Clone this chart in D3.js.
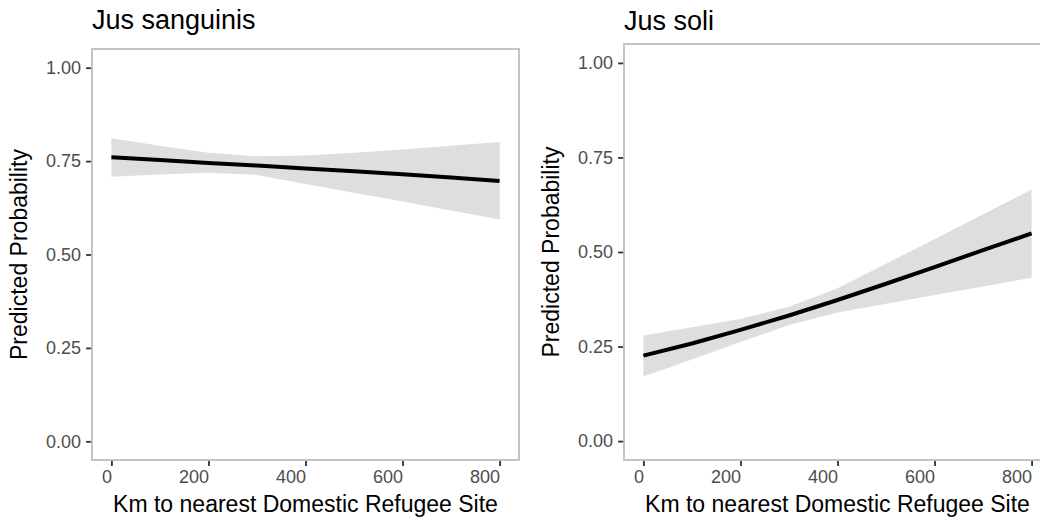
<!DOCTYPE html>
<html>
<head>
<meta charset="utf-8">
<script src="https://cdn.jsdelivr.net/npm/d3@7"></script>
<style>
  html, body { margin: 0; padding: 0; background: #fff; }
  svg { display: block; font-family: "Liberation Sans", Arial, Helvetica, sans-serif; }
</style>
</head>
<body>
<svg id="chart" width="1040" height="520"></svg>
<script>
// Distance grid (km) at which predictions were evaluated
const distanceKm = [0, 100, 200, 300, 400, 500, 600, 700, 800];

// Jus sanguinis: predicted probability and 95% interval
const sanguinisFit   = [0.760, 0.753, 0.745, 0.738, 0.730, 0.723, 0.715, 0.706, 0.697];
const sanguinisLower = [0.708, 0.714, 0.719, 0.713, 0.689, 0.665, 0.642, 0.618, 0.594];
const sanguinisUpper = [0.811, 0.791, 0.772, 0.763, 0.765, 0.772, 0.781, 0.791, 0.801];

// Jus soli: predicted probability and 95% interval
const soliFit   = [0.226, 0.258, 0.294, 0.332, 0.373, 0.416, 0.460, 0.505, 0.549];
const soliLower = [0.171, 0.216, 0.262, 0.307, 0.340, 0.363, 0.386, 0.409, 0.432];
const soliUpper = [0.279, 0.301, 0.323, 0.355, 0.404, 0.469, 0.534, 0.600, 0.665];

// Axis ticks
const xTicks = [0, 200, 400, 600, 800];
const yTicks = [0, 0.25, 0.5, 0.75, 1];

const panelTitles = ["Jus sanguinis", "Jus soli"];
const xAxisTitle = "Km to nearest Domestic Refugee Site";
const yAxisTitle = "Predicted Probability";

const svg = d3.select("#chart");

const panels = [
  { title: panelTitles[0], fit: sanguinisFit, lo: sanguinisLower, hi: sanguinisUpper,
    left: 92, right: 519, top: 49, bottom: 460, titleY: 29, yTitleX: 27 },
  { title: panelTitles[1], fit: soliFit, lo: soliLower, hi: soliUpper,
    left: 624, right: 1051, top: 44, bottom: 460, titleY: 29.5, yTitleX: 559 }
];

panels.forEach(p => {
  const x = d3.scaleLinear().domain([-40, 840]).range([p.left, p.right]);
  const y = d3.scaleLinear().domain([-0.05, 1.05]).range([p.bottom, p.top]);

  const rows = distanceKm.map((d, i) => ({ d, fit: p.fit[i], lo: p.lo[i], hi: p.hi[i] }));

  const g = svg.append("g");

  // confidence ribbon
  g.append("path")
    .datum(rows)
    .attr("fill", "#dedede")
    .attr("d", d3.area().x(r => x(r.d)).y0(r => y(r.lo)).y1(r => y(r.hi)));

  // fitted line
  g.append("path")
    .datum(rows)
    .attr("fill", "none")
    .attr("stroke", "#000")
    .attr("stroke-width", 4)
    .attr("d", d3.line().x(r => x(r.d)).y(r => y(r.fit)));

  // panel border
  g.append("rect")
    .attr("x", p.left).attr("y", p.top)
    .attr("width", p.right - p.left).attr("height", p.bottom - p.top)
    .attr("fill", "none").attr("stroke", "#bebebe").attr("stroke-width", 1.8);

  // y axis
  const yAxis = g.append("g")
    .attr("transform", `translate(${p.left - 0.9},0)`)
    .call(d3.axisLeft(y).tickValues(yTicks).tickFormat(d3.format(".2f")).tickSize(5).tickPadding(5));
  yAxis.select(".domain").remove();
  yAxis.selectAll(".tick line").attr("stroke", "#333").attr("stroke-width", 1.8);
  yAxis.selectAll(".tick text").attr("fill", "#4d4d4d").attr("font-size", 18)
    .attr("font-family", "Liberation Sans, Arial, sans-serif");

  // x axis: labels sit right-aligned against their tick
  const xAxis = g.append("g")
    .attr("transform", `translate(0,${p.bottom + 0.9})`)
    .call(d3.axisBottom(x).tickValues(xTicks).tickFormat(d3.format("d")).tickSize(5).tickPadding(4));
  xAxis.select(".domain").remove();
  xAxis.selectAll(".tick line").attr("stroke", "#333").attr("stroke-width", 1.8);
  xAxis.selectAll(".tick text").attr("fill", "#4d4d4d").attr("font-size", 18)
    .attr("text-anchor", "end")
    .attr("font-family", "Liberation Sans, Arial, sans-serif");

  // titles
  g.append("text")
    .attr("x", p.left).attr("y", p.titleY)
    .attr("font-size", 27).attr("fill", "#000")
    .text(p.title);

  g.append("text")
    .attr("x", (p.left + p.right) / 2).attr("y", 511.5)
    .attr("text-anchor", "middle")
    .attr("font-size", 23).attr("fill", "#000")
    .text(xAxisTitle);

  g.append("text")
    .attr("transform", `translate(${p.yTitleX},${(p.top + p.bottom) / 2}) rotate(-90)`)
    .attr("text-anchor", "middle")
    .attr("font-size", 23).attr("fill", "#000")
    .text(yAxisTitle);
});
</script>
</body>
</html>
